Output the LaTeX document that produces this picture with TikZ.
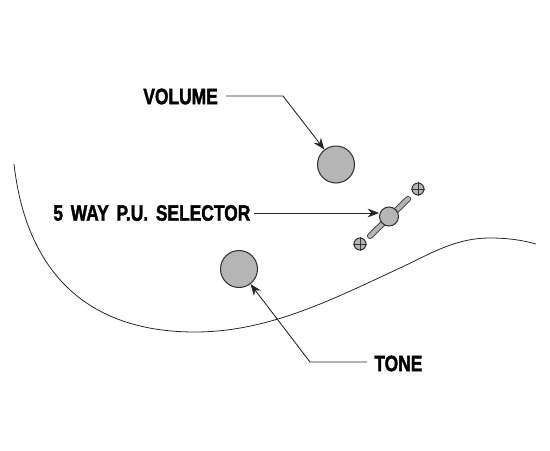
\documentclass[tikz,border=0pt]{standalone}
\usepackage{fontspec}
\usepackage{xcolor}
\newfontfamily\callout[FakeStretch=0.78,FakeBold=1.6,WordSpace=1.6]{Liberation Sans Bold}
\definecolor{knobfill}{HTML}{B5B5B5}
\definecolor{knobline}{HTML}{333333}
\usetikzlibrary{arrows.meta,positioning,calc}

\begin{document}
\begin{tikzpicture}[
	x=0.02cm, y=-0.02cm,
	>={Stealth[length=6.5pt,width=5pt]},
	knob/.style={
		circle, draw=knobline, fill=knobfill,
		line width=0.6pt, minimum size=0.74cm, inner sep=0pt
	},
	selknob/.style={knob, minimum size=0.38cm},
	screw/.style={knob, minimum size=0.24cm},
	lbl/.style={font=\callout\fontsize{12.7pt}{14pt}\selectfont, text=black, inner sep=0pt},
	arr/.style={->, line width=0.5pt, black!85},
	curve/.style={line width=0.45pt, black!85}
	]
	\useasboundingbox (0,0) rectangle (550,450);
	
	% body outline
	\draw[curve] (14,164) .. controls (26,270) and (85,332) .. (195,332)
		.. controls (270,332) and (335,298) .. (400,268)
		.. controls (430,254) and (455,238) .. (490,238)
		.. controls (507,238) and (522,240) .. (536,244);
	
	\node[knob] (volknob) at (336,164.5) {};
	\node[knob] (toneknob) at (239,269) {};
	
	% selector
	\coordinate (slottop) at (408,199);
	\coordinate (slotbot) at (370,236);
	\draw[double=knobfill, double distance=2.4pt, line width=0.5pt, knobline, line cap=round] (slottop) -- (slotbot);
	\node[selknob] (selknob) at (389,216.5) {};
	\node[screw] (screwa) at (418,189) {};
	\node[screw] (screwb) at (360,244) {};
	\foreach \s in {screwa, screwb} {
		\draw[knobline, line width=0.4pt] (\s.north) -- (\s.south);
		\draw[knobline, line width=0.4pt] (\s.west) -- (\s.east);
	}
	
	% labels
	\node[lbl, anchor=west] (vollbl) at (143,96.5) {VOLUME};
	\node[lbl, anchor=west] (sellbl) at (53,213) {5 WAY P.U. SELECTOR};
	\node[lbl, anchor=west] (tonelbl) at (374,363.5) {TONE};
	
	\coordinate (volbend) at (283,96);
	\coordinate (tonebend) at (310,362);
	\coordinate (volstart) at (226,96);
	\coordinate (tonestart) at (367,362);
	\coordinate (selstart) at (254,213);
	\coordinate (selend) at (379,213);
	
	\draw[arr] (volstart) -- (volbend) -- (volknob);
	\draw[arr] (selstart) -- (selend);
	\draw[arr] (tonestart) -- (tonebend) -- (toneknob);
\end{tikzpicture}
\end{document}
